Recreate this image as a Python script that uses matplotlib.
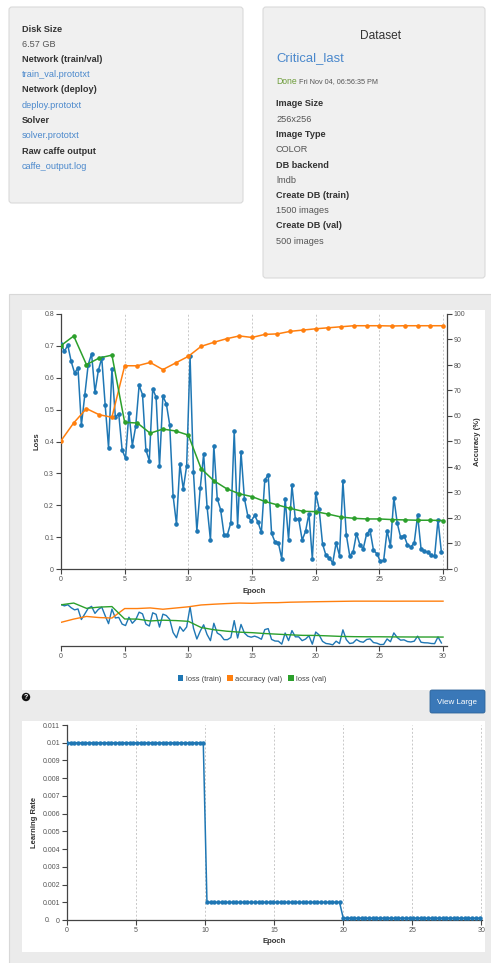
import numpy as np
import matplotlib.pyplot as plt
from matplotlib.patches import FancyBboxPatch, Rectangle, Circle, Patch

plt.rcParams['font.family'] = ['Liberation Sans', 'DejaVu Sans']

W, H = 491, 963

# ---- data ----
train_loss = [
    0.706, 0.683, 0.702, 0.651, 0.615, 0.631, 0.451, 0.545, 0.641, 0.675,
    0.555, 0.623, 0.662, 0.516, 0.380, 0.628, 0.477, 0.487, 0.373, 0.348,
    0.490, 0.387, 0.448, 0.576, 0.547, 0.373, 0.340, 0.565, 0.539, 0.322,
    0.542, 0.519, 0.453, 0.230, 0.141, 0.329, 0.251, 0.324, 0.667, 0.304,
    0.119, 0.254, 0.361, 0.196, 0.091, 0.387, 0.221, 0.186, 0.108, 0.108,
    0.145, 0.432, 0.136, 0.367, 0.221, 0.167, 0.150, 0.168, 0.147, 0.115,
    0.279, 0.296, 0.112, 0.085, 0.082, 0.032, 0.221, 0.092, 0.262, 0.156,
    0.156, 0.091, 0.118, 0.174, 0.031, 0.238, 0.188, 0.079, 0.043, 0.035,
    0.019, 0.082, 0.042, 0.275, 0.108, 0.042, 0.053, 0.111, 0.076, 0.064,
    0.111, 0.121, 0.059, 0.048, 0.024, 0.027, 0.120, 0.073, 0.223, 0.144,
    0.099, 0.105, 0.076, 0.069, 0.082, 0.168, 0.064, 0.055, 0.053, 0.043,
    0.040, 0.155, 0.052,
]
train_epoch = np.arange(len(train_loss)) * 0.2667

val_epoch = list(range(31))
val_accuracy = [
    50.3, 57.3, 62.9, 60.5, 59.5, 79.7, 79.7, 81.0, 78.2, 80.8,
    83.4, 87.3, 88.9, 90.3, 91.4, 90.8, 92.0, 92.2, 93.2, 93.7,
    94.2, 94.6, 95.0, 95.4, 95.4, 95.4, 95.3, 95.4, 95.4, 95.4, 95.4,
]
val_loss = [
    0.701, 0.731, 0.641, 0.662, 0.671, 0.460, 0.458, 0.426, 0.439, 0.433,
    0.420, 0.315, 0.277, 0.252, 0.236, 0.227, 0.212, 0.201, 0.190, 0.181,
    0.180, 0.172, 0.163, 0.159, 0.157, 0.157, 0.155, 0.154, 0.153, 0.153, 0.152,
]

lr_values = [0.01] * 38 + [0.001] * 37 + [0.0001] * 38
lr_epoch = np.arange(len(lr_values)) * 0.2667

C_BLUE = '#1f77b4'
C_ORANGE = '#ff7f0e'
C_GREEN = '#2ca02c'
LINK = '#4a88cc'
AXC = '#444444'

fig = plt.figure(figsize=(W / 100, H / 100), dpi=100)
fig.patch.set_facecolor('white')

# background axes in pixel coordinates
bg = fig.add_axes([0, 0, 1, 1])
bg.set_xlim(0, W)
bg.set_ylim(H, 0)
bg.axis('off')


def px_axes(x0, y0, x1, y1):
    return fig.add_axes([x0 / W, 1 - y1 / H, (x1 - x0) / W, (y1 - y0) / H])


# ---- top info panels ----
for (x0, y0, w, h) in [(9, 7, 234, 196), (263, 7, 222, 271)]:
    bg.add_patch(FancyBboxPatch((x0, y0), w, h, boxstyle='round,pad=0,rounding_size=3',
                                fc='#f0f0f0', ec='#dadada', lw=0.8))

rows1 = [('Disk Size', '6.57 GB', '#555555'),
         ('Network (train/val)', 'train_val.prototxt', LINK),
         ('Network (deploy)', 'deploy.prototxt', LINK),
         ('Solver', 'solver.prototxt', LINK),
         ('Raw caffe output', 'caffe_output.log', LINK)]
y = 29
for lab, val, col in rows1:
    bg.text(22, y, lab, fontsize=6.6, fontweight='bold', color='#333333', va='center')
    bg.text(22, y + 15.3, val, fontsize=6.6, color=col, va='center')
    y += 30.5

bg.text(381, 36, 'Dataset', fontsize=8.6, color='#333333', ha='center', va='center')
bg.text(276, 58, 'Critical_last', fontsize=9.4, color=LINK, va='center')
bg.text(276, 81, 'Done', fontsize=6.2, color='#6b9b37', va='center')
bg.text(299.5, 81.5, 'Fri Nov 04, 06:56:35 PM', fontsize=5.2, color='#555555', va='center')

rows2 = [('Image Size', '256x256'), ('Image Type', 'COLOR'), ('DB backend', 'lmdb'),
         ('Create DB (train)', '1500 images'), ('Create DB (val)', '500 images')]
y = 104
for lab, val in rows2:
    bg.text(276, y, lab, fontsize=6.6, fontweight='bold', color='#333333', va='center')
    bg.text(276, y + 15.3, val, fontsize=6.6, color='#555555', va='center')
    y += 30.5

# ---- lower grey panel with white chart areas ----
bg.add_patch(Rectangle((9, 294), 485, 680, fc='#ebebeb', ec='#d8d8d8', lw=0.8))
bg.add_patch(Rectangle((22, 310), 463, 380, fc='white', ec='none'))
bg.add_patch(Rectangle((22, 721), 463, 231, fc='white', ec='none'))

# help icon and button
bg.add_patch(Circle((26, 697), 4.2, fc='#111111', ec='none'))
bg.text(26, 697.3, '?', fontsize=5, fontweight='bold', color='white', ha='center', va='center')
bg.add_patch(FancyBboxPatch((430, 690), 55, 23, boxstyle='round,pad=0,rounding_size=2',
                            fc='#3a78b8', ec='#2e6399', lw=0.6))
bg.text(457.5, 702, 'View Large', fontsize=5.8, color='white', ha='center', va='center')


def style_axes(ax):
    for s in ['top', 'right']:
        ax.spines[s].set_visible(False)
    for s in ['left', 'bottom']:
        ax.spines[s].set_color(AXC)
        ax.spines[s].set_linewidth(0.9)
    ax.tick_params(direction='out', length=3.5, width=0.8, color=AXC,
                   labelsize=5, labelcolor='#555555', pad=1.5)
    ax.set_facecolor('none')


# ---- main chart ----
ax = px_axes(61, 314, 447, 569)
style_axes(ax)
ax.set_xlim(0, 30.31)
ax.set_ylim(0, 0.8)
ax.set_xticks(range(0, 31, 5))
ax.set_yticks(np.arange(0, 0.81, 0.1))
ax.set_yticklabels(['0', '0.1', '0.2', '0.3', '0.4', '0.5', '0.6', '0.7', '0.8'])
for xv in range(5, 31, 5):
    ax.axvline(xv, color='#c8c8c8', lw=0.7, ls=(0, (2, 2)), zorder=0)
ax.set_xlabel('Epoch', fontsize=5.5, fontweight='bold', color='#333333', labelpad=3.5)
ax.set_ylabel('Loss', fontsize=5.5, fontweight='bold', color='#333333', labelpad=2.5)

ax2 = ax.twinx()
ax2.set_ylim(0, 100)
ax2.set_yticks(range(0, 101, 10))
ax2.spines['top'].set_visible(False)
ax2.spines['left'].set_visible(False)
ax2.spines['bottom'].set_visible(False)
ax2.spines['right'].set_color(AXC)
ax2.spines['right'].set_linewidth(0.9)
ax2.tick_params(direction='out', length=3.5, width=0.8, color=AXC,
                labelsize=5, labelcolor='#555555', pad=1.5)
ax2.set_ylabel('Accuracy (%)', fontsize=5.5, fontweight='bold', color='#333333', labelpad=6)

ax.plot(train_epoch, train_loss, color=C_BLUE, lw=1.1, marker='o', ms=2.3, zorder=3)
ax2.plot(val_epoch, val_accuracy, color=C_ORANGE, lw=1.1, marker='o', ms=2.3, zorder=3)
ax2.plot(val_epoch, [v * 125 for v in val_loss], color=C_GREEN, lw=1.1, marker='o', ms=2.3,
         zorder=4)

# ---- overview (navigator) chart ----
axm = px_axes(61, 599, 447, 646)
axm.set_xlim(0, 30.31)
axm.set_ylim(0, 0.8)
for s in ['top', 'right', 'left']:
    axm.spines[s].set_visible(False)
axm.spines['bottom'].set_color(AXC)
axm.spines['bottom'].set_linewidth(0.9)
axm.set_yticks([])
axm.set_xticks(range(0, 31, 5))
axm.tick_params(direction='out', length=3.5, width=0.8, color=AXC,
                labelsize=5, labelcolor='#555555', pad=1.5)
axm.set_facecolor('none')
axm2 = axm.twinx()
axm2.set_ylim(0, 100)
axm2.axis('off')
axm.plot(train_epoch, train_loss, color=C_BLUE, lw=1.0)
axm2.plot(val_epoch, val_accuracy, color=C_ORANGE, lw=1.0)
axm2.plot(val_epoch, [v * 125 for v in val_loss], color=C_GREEN, lw=1.0)

handles = [Patch(fc=C_BLUE, label='loss (train)'),
           Patch(fc=C_ORANGE, label='accuracy (val)'),
           Patch(fc=C_GREEN, label='loss (val)')]
fig.legend(handles=handles, loc='center', bbox_to_anchor=(252 / W, 1 - 679 / H), ncol=3,
           frameon=False, fontsize=5.4, handlelength=0.75, handleheight=0.75,
           handletextpad=0.3, columnspacing=0.8, labelcolor='#444444')

# ---- learning rate chart ----
axl = px_axes(67, 725, 482, 920)
style_axes(axl)
axl.set_xlim(0, 30.05)
axl.set_ylim(0, 0.011)
axl.set_xticks(range(0, 31, 5))
yt = [i / 1000 for i in range(0, 12)]
axl.set_yticks(yt)
axl.set_yticklabels(['0'] + ['0.%03d' % i for i in range(1, 10)] + ['0.01', '0.011'])
for xv in range(5, 31, 5):
    axl.axvline(xv, color='#c8c8c8', lw=0.7, ls=(0, (2, 2)), zorder=0)
axl.text(-1.4, 0, '0.', fontsize=5, color='#555555', ha='center', va='center')
axl.plot(lr_epoch, lr_values, color=C_BLUE, lw=1.1, marker='o', ms=2.2, zorder=3)
axl.set_xlabel('Epoch', fontsize=5.5, fontweight='bold', color='#333333', labelpad=3)
axl.set_ylabel('Learning Rate', fontsize=5.5, fontweight='bold', color='#333333', labelpad=3)

fig.savefig('out.png', dpi=100)
